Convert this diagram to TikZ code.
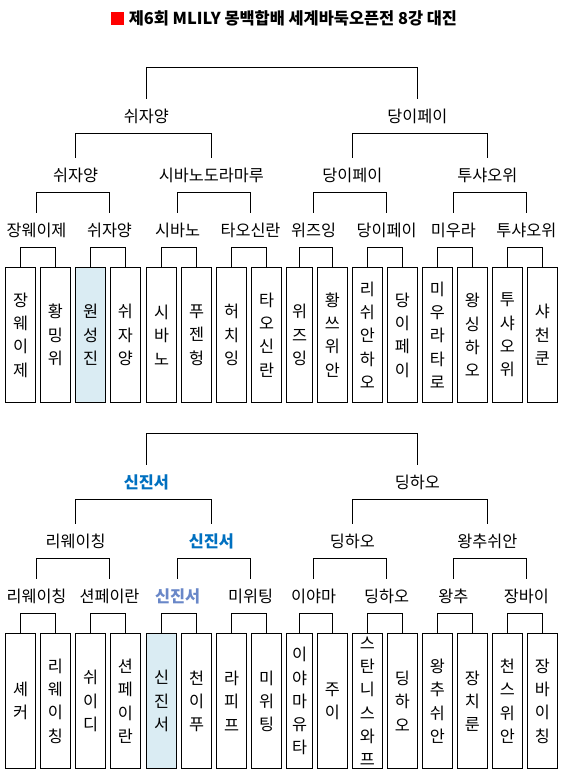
\documentclass[tikz,border=0pt]{standalone}
\usepackage{fontspec}
\setmainfont{Noto Sans CJK KR}
\definecolor{hlfill}{RGB}{218,236,243}
\definecolor{winblue}{RGB}{0,112,192}
\definecolor{lightwin}{RGB}{105,135,200}
\begin{document}
\begin{tikzpicture}[x=1pt,y=-1pt,
  lab/.style={font=\fontsize{16.3}{19}\selectfont, inner sep=0pt, minimum height=34pt},
  labwin/.style={lab, font=\fontsize{16.3}{19}\selectfont\bfseries, text=winblue},
  lablight/.style={lab, font=\fontsize{16.3}{19}\selectfont\bfseries, text=lightwin},
  pbox/.style={draw=black, line width=1pt, inner sep=0pt, minimum width=29.6pt, minimum height=135.5pt, align=center, font=\fontsize{16.3}{23.3}\selectfont},
  hlbox/.style={pbox, fill=hlfill},
  conn/.style={draw=black, line width=1pt}]
\useasboundingbox (0,0) rectangle (565,773);

% title
\node[fill=red, minimum size=13pt, inner sep=0pt] (sq) at (117,18.5) {};
\node[anchor=west, inner sep=0pt, font=\fontsize{16.4}{19}\selectfont\bfseries] (title) at (128.6,18) {제6회 MLILY 몽백합배 세계바둑오픈전 8강 대진};

% ================= TOP HALF =================
\coordinate (aTop) at (282,67.3);
\node[lab] (aF1) at (146.3,116) {쉬자양};
\node[lab] (aF2) at (417.3,116) {당이페이};
\node[lab] (aS1) at (75.7,175) {쉬자양};
\node[lab] (aS2) at (211.3,175) {시바노도라마루};
\node[lab] (aS3) at (352.3,175) {당이페이};
\node[lab] (aS4) at (487.3,175) {투샤오위};
\node[lab] (aQ1) at (36.5,230) {장웨이제};
\node[lab] (aQ2) at (109.5,230) {쉬자양};
\node[lab] (aQ3) at (177.5,230) {시바노};
\node[lab] (aQ4) at (250.5,230) {타오신란};
\node[lab] (aQ5) at (313.5,230) {위즈잉};
\node[lab] (aQ6) at (386.5,230) {당이페이};
\node[lab] (aQ7) at (453.3,230) {미우라};
\node[lab] (aQ8) at (526.3,230) {투샤오위};

\node[pbox] (aB1) at (20.5,335) {장\\웨\\이\\제};
\node[pbox] (aB2) at (55.3,335) {황\\밍\\위};
\node[hlbox] (aB3) at (90.5,335) {원\\성\\진};
\node[pbox] (aB4) at (125.3,335) {쉬\\자\\양};
\node[pbox] (aB5) at (161.5,335) {시\\바\\노};
\node[pbox] (aB6) at (196.5,335) {푸\\젠\\헝};
\node[pbox] (aB7) at (231.5,335) {허\\치\\잉};
\node[pbox] (aB8) at (266.5,335) {타\\오\\신\\란};
\node[pbox, minimum width=25.6pt] (aB9) at (299.5,335) {위\\즈\\잉};
\node[pbox] (aB10) at (332.3,335) {황\\쓰\\위\\안};
\node[pbox] (aB11) at (367.3,335) {리\\쉬\\안\\하\\오};
\node[pbox] (aB12) at (402.3,335) {당\\이\\페\\이};
\node[pbox] (aB13) at (437.3,335) {미\\우\\라\\타\\로};
\node[pbox] (aB14) at (472.3,335) {왕\\싱\\하\\오};
\node[pbox] (aB15) at (507.3,335) {투\\샤\\오\\위};
\node[pbox] (aB16) at (542.3,335) {샤\\천\\쿤};

\draw[conn] (aF1.north) |- (aTop) -| (aF2.north);
\draw[conn] (aS1.north) |- (aF1.south) -| (aS2.north);
\draw[conn] (aS3.north) |- (aF2.south) -| (aS4.north);
\draw[conn] (aQ1.north) |- (aS1.south) -| (aQ2.north);
\draw[conn] (aQ3.north) |- (aS2.south) -| (aQ4.north);
\draw[conn] (aQ5.north) |- (aS3.south) -| (aQ6.north);
\draw[conn] (aQ7.north) |- (aS4.south) -| (aQ8.north);
\draw[conn] (aB1.north) |- (aQ1.south) -| (aB2.north);
\draw[conn] (aB3.north) |- (aQ2.south) -| (aB4.north);
\draw[conn] (aB5.north) |- (aQ3.south) -| (aB6.north);
\draw[conn] (aB7.north) |- (aQ4.south) -| (aB8.north);
\draw[conn] (aB9.north) |- (aQ5.south) -| (aB10.north);
\draw[conn] (aB11.north) |- (aQ6.south) -| (aB12.north);
\draw[conn] (aB13.north) |- (aQ7.south) -| (aB14.north);
\draw[conn] (aB15.north) |- (aQ8.south) -| (aB16.north);

% ================= BOTTOM HALF =================
\coordinate (bTop) at (282,433.3);
\node[labwin] (bF1) at (146.3,482) {신진서};
\node[lab] (bF2) at (417.3,482) {딩하오};
\node[lab] (bS1) at (75.7,541) {리웨이칭};
\node[labwin] (bS2) at (211.3,541) {신진서};
\node[lab] (bS3) at (352.3,541) {딩하오};
\node[lab] (bS4) at (487.3,541) {왕추쉬안};
\node[lab] (bQ1) at (36.5,596) {리웨이칭};
\node[lab] (bQ2) at (109.5,596) {션페이란};
\node[lablight] (bQ3) at (177.5,596) {신진서};
\node[lab] (bQ4) at (250.5,596) {미위팅};
\node[lab] (bQ5) at (313.5,596) {이야마};
\node[lab] (bQ6) at (386.5,596) {딩하오};
\node[lab] (bQ7) at (453.3,596) {왕추};
\node[lab] (bQ8) at (526.3,596) {장바이};

\node[pbox] (bB1) at (20.5,701.2) {셰\\커};
\node[pbox] (bB2) at (55.3,701.2) {리\\웨\\이\\칭};
\node[pbox] (bB3) at (90.5,701.2) {쉬\\이\\디};
\node[pbox] (bB4) at (125.3,701.2) {션\\페\\이\\란};
\node[hlbox] (bB5) at (161.5,701.2) {신\\진\\서};
\node[pbox] (bB6) at (196.5,701.2) {천\\이\\푸};
\node[pbox] (bB7) at (231.5,701.2) {라\\피\\프};
\node[pbox] (bB8) at (266.5,701.2) {미\\위\\팅};
\node[pbox, minimum width=25.6pt] (bB9) at (299.5,701.2) {이\\야\\마\\유\\타};
\node[pbox] (bB10) at (332.3,701.2) {주\\이};
\node[pbox] (bB11) at (367.3,701.2) {스\\탄\\니\\스\\와\\프};
\node[pbox] (bB12) at (402.3,701.2) {딩\\하\\오};
\node[pbox] (bB13) at (437.3,701.2) {왕\\추\\쉬\\안};
\node[pbox] (bB14) at (472.3,701.2) {장\\치\\룬};
\node[pbox] (bB15) at (507.3,701.2) {천\\스\\위\\안};
\node[pbox] (bB16) at (542.3,701.2) {장\\바\\이\\칭};

\draw[conn] (bF1.north) |- (bTop) -| (bF2.north);
\draw[conn] (bS1.north) |- (bF1.south) -| (bS2.north);
\draw[conn] (bS3.north) |- (bF2.south) -| (bS4.north);
\draw[conn] (bQ1.north) |- (bS1.south) -| (bQ2.north);
\draw[conn] (bQ3.north) |- (bS2.south) -| (bQ4.north);
\draw[conn] (bQ5.north) |- (bS3.south) -| (bQ6.north);
\draw[conn] (bQ7.north) |- (bS4.south) -| (bQ8.north);
\draw[conn] (bB1.north) |- (bQ1.south) -| (bB2.north);
\draw[conn] (bB3.north) |- (bQ2.south) -| (bB4.north);
\draw[conn] (bB5.north) |- (bQ3.south) -| (bB6.north);
\draw[conn] (bB7.north) |- (bQ4.south) -| (bB8.north);
\draw[conn] (bB9.north) |- (bQ5.south) -| (bB10.north);
\draw[conn] (bB11.north) |- (bQ6.south) -| (bB12.north);
\draw[conn] (bB13.north) |- (bQ7.south) -| (bB14.north);
\draw[conn] (bB15.north) |- (bQ8.south) -| (bB16.north);
\end{tikzpicture}
\end{document}
